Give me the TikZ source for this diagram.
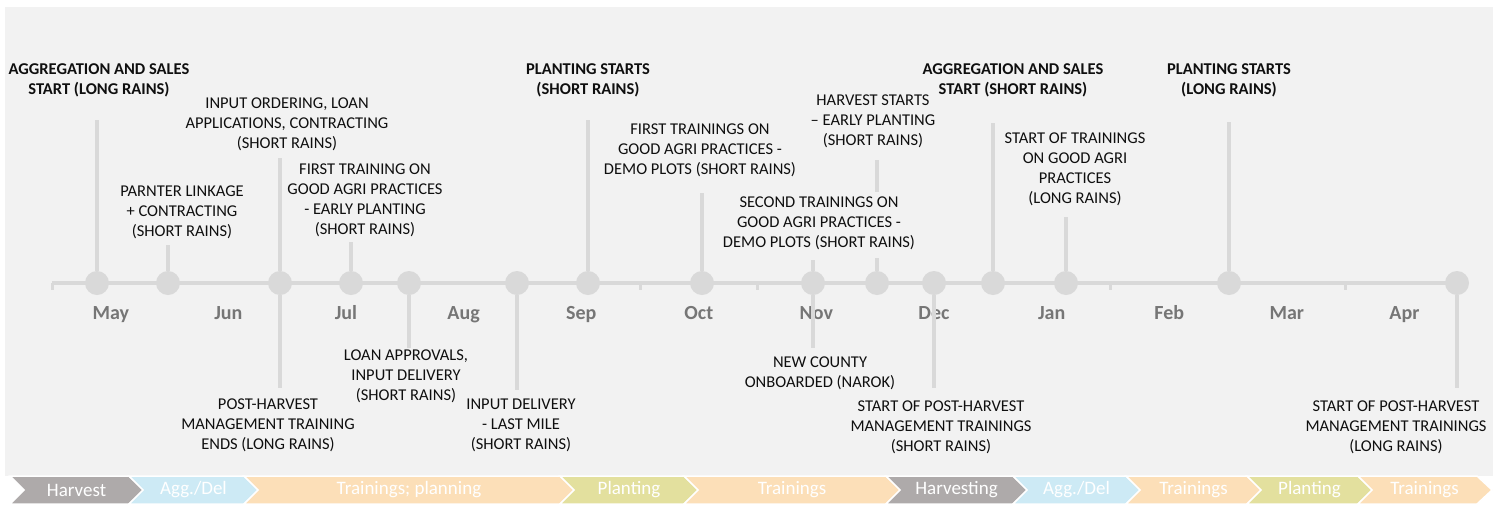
\documentclass[tikz,border=0pt]{standalone}
\usepackage{fontspec}
\setmainfont{Carlito}
\definecolor{bg}{HTML}{F2F2F2}
\definecolor{tl}{HTML}{D9D9D9}
\definecolor{monthgray}{HTML}{767676}
\definecolor{harv}{HTML}{AEAAAA}
\definecolor{agg}{HTML}{CDEAF5}
\definecolor{train}{HTML}{FCDFB8}
\definecolor{plant}{HTML}{E3E09E}

\begin{document}
\begin{tikzpicture}[x=1pt,y=-1pt,
	dot/.style={circle,fill=tl,minimum size=24pt,inner sep=0},
	stem/.style={draw=tl,line width=4pt},
	lbl/.style={align=center,inner sep=0,text=black!94,font=\fontsize{16.5}{20}\selectfont,
		execute at begin node=\strut,execute at end node=\strut},
	lblbold/.style={lbl,font=\fontsize{16.5}{20}\selectfont\bfseries},
	month/.style={anchor=base,inner sep=0,text=monthgray,font=\fontsize{20}{24}\selectfont\bfseries},
	chev/.style={fill=#1,draw=white,line width=1.5pt},
	chevtext/.style={text=white,inner sep=0,font=\fontsize{19}{22}\selectfont}]
	\useasboundingbox (0,0) rectangle (1501,504);
	
	%background
	\fill[bg] (5,7) rectangle (1493,476);
	
	%timeline
	\coordinate (tlstart) at (52,283);
	\coordinate (tlend) at (1457,283);
	\draw[stem] (tlstart) -- (tlend);
	\foreach \k in {0,...,12}
		\draw[tl,line width=3pt] ({52+117.6*\k},283) -- ++(0,7);	%month ticks
	
	%months
	\foreach \m [count=\i from 0] in {May,Jun,Jul,Aug,Sep,Oct,Nov,Dec,Jan,Feb,Mar,Apr}
		\node[month] (m\i) at ({52+117.6*(\i+0.5)},319) {\m};
	
	%dots
	\foreach \x [count=\i] in {97,168,280,351,409,517,588,702,813,877,934,993,1066,1229,1457}
		\node[dot] (d\i) at (\x,283) {};
	
	%stems up
	\coordinate (u1) at (97,120);	\draw[stem] (d1) -- (u1);
	\coordinate (u2) at (168,245);	\draw[stem] (d2) -- (u2);
	\coordinate (u3) at (280,158);	\draw[stem] (d3) -- (u3);
	\coordinate (u4) at (351,242);	\draw[stem] (d4) -- (u4);
	\coordinate (u7) at (588,120);	\draw[stem] (d7) -- (u7);
	\coordinate (u8) at (702,193);	\draw[stem] (d8) -- (u8);
	\coordinate (u9) at (813,260);	\draw[stem] (d9) -- (u9);
	\coordinate (u10) at (877,160);	\draw[stem] (d10) -- (u10);
	\coordinate (u12) at (993,123);	\draw[stem] (d12) -- (u12);
	\coordinate (u13) at (1066,217);	\draw[stem] (d13) -- (u13);
	\coordinate (u14) at (1229,122);	\draw[stem] (d14) -- (u14);
	
	%stems down
	\coordinate (w3) at (280,388);	\draw[stem] (d3) -- (w3);
	\coordinate (w5) at (409,348);	\draw[stem] (d5) -- (w5);
	\coordinate (w6) at (517,390);	\draw[stem] (d6) -- (w6);
	\coordinate (w9) at (813,348);	\draw[stem] (d9) -- (w9);
	\coordinate (w11) at (934,388);	\draw[stem] (d11) -- (w11);
	\coordinate (w15) at (1457,388);	\draw[stem] (d15) -- (w15);
	
	%labels above
	\node[lblbold] (l1) at (99,82) {AGGREGATION AND SALES\\START (LONG RAINS)};
	\node[lbl] (l2) at (182,214) {PARNTER LINKAGE\\+ CONTRACTING\\(SHORT RAINS)};
	\node[lbl] (l3) at (287,126) {INPUT ORDERING, LOAN\\APPLICATIONS, CONTRACTING\\(SHORT RAINS)};
	\node[lbl] (l4) at (365,202) {FIRST TRAINING ON\\GOOD AGRI PRACTICES\\- EARLY PLANTING\\(SHORT RAINS)};
	\node[lblbold] (l7) at (588,82) {PLANTING STARTS\\(SHORT RAINS)};
	\node[lbl] (l8) at (700,152) {FIRST TRAININGS ON\\GOOD AGRI PRACTICES -\\DEMO PLOTS (SHORT RAINS)};
	\node[lbl,fill=bg,inner ysep=5pt] (l9) at (819,225) {SECOND TRAININGS ON\\GOOD AGRI PRACTICES -\\DEMO PLOTS (SHORT RAINS)};
	\node[lbl] (l10) at (873,123) {HARVEST STARTS\\– EARLY PLANTING\\(SHORT RAINS)};
	\node[lblbold] (l12) at (1013,82) {AGGREGATION AND SALES\\START (SHORT RAINS)};
	\node[lbl] (l13) at (1075,171) {START OF TRAININGS\\ON GOOD AGRI\\PRACTICES\\(LONG RAINS)};
	\node[lblbold] (l14) at (1229,82) {PLANTING STARTS\\(LONG RAINS)};
	
	%labels below
	\node[lbl] (b3) at (268,427) {POST-HARVEST\\MANAGEMENT TRAINING\\ENDS (LONG RAINS)};
	\node[lbl] (b5) at (406,378) {LOAN APPROVALS,\\INPUT DELIVERY\\(SHORT RAINS)};
	\node[lbl] (b6) at (521,427) {INPUT DELIVERY\\- LAST MILE\\(SHORT RAINS)};
	\node[lbl] (b9) at (820,375) {NEW COUNTY\\ONBOARDED (NAROK)};
	\node[lbl] (b11) at (941,429) {START OF POST-HARVEST\\MANAGEMENT TRAININGS\\(SHORT RAINS)};
	\node[lbl] (b15) at (1396,429) {START OF POST-HARVEST\\MANAGEMENT TRAININGS\\(LONG RAINS)};
	
	%season chevrons
	\foreach \a/\b/\col/\txt [count=\i] in {10/129/harv/Harvest, 129/244/agg/{Agg./Del},
		244/560/train/{Trainings; planning}, 560/684/plant/Planting, 684/886/train/Trainings,
		886/1013/harv/Harvesting, 1013/1126/agg/{Agg./Del}, 1126/1247/train/Trainings,
		1247/1358/plant/Planting, 1358/1477/train/Trainings}
	{
		\path[chev=\col] (\a,476) -- (\b,476) -- (\b+15,490) -- (\b,504) -- (\a,504) -- (\a+14,490) -- cycle;
		\node[chevtext] (c\i) at ({(\a+\b)/2+7},490) {\txt};
	}
\end{tikzpicture}
\end{document}
